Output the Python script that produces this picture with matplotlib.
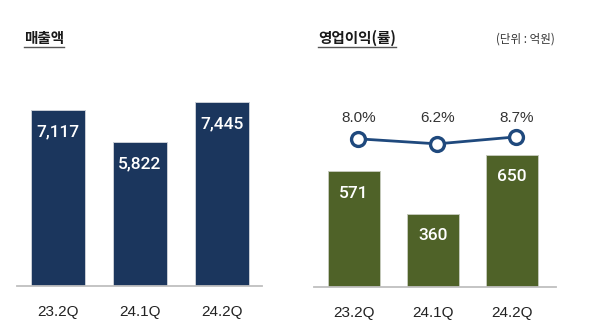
import matplotlib
matplotlib.use("Agg")
import matplotlib.pyplot as plt
import matplotlib.transforms as mtransforms

quarters = ["23.2Q", "24.1Q", "24.2Q"]
sales = [7117, 5822, 7445]
op_profit = [571, 360, 650]
op_margin = [8.0, 6.2, 8.7]

NAVY = "#1b365d"
OLIVE = "#4f6228"
LINE = "#1f497d"
AXIS_GREY = "#bfbfbf"
KR = ["Noto Sans CJK KR", "DejaVu Sans"]

W, H = 600, 323
fig = plt.figure(figsize=(W / 100, H / 100), dpi=100)


def px_axes(x0, x1, base, height=200):
    # axes placed by pixel edges (y measured from top of the figure)
    return fig.add_axes([x0 / W, (H - base) / H, (x1 - x0) / W, height / H])


def style(ax):
    for s in ("top", "right", "left"):
        ax.spines[s].set_visible(False)
    ax.spines["bottom"].set_color(AXIS_GREY)
    ax.spines["bottom"].set_linewidth(1.3)
    ax.set_yticks([])
    ax.tick_params(axis="x", length=0, pad=13.5, labelsize=11, labelcolor="#222222")
    for lb in ax.get_xticklabels():
        lb.set_family("Liberation Sans")


def bar_values(ax, vals, fmt):
    for i, v in enumerate(vals):
        ax.annotate(fmt.format(v), xy=(i, v), xytext=(0, -15.8), textcoords="offset points",
                    ha="center", va="center", color="white", fontsize=12.5,
                    family="Roboto", fontweight="medium")


# sales
ax1 = px_axes(17, 262, 286)
ax1.bar(range(3), sales, width=0.66, color=NAVY, edgecolor="#c9ced6", linewidth=0.7)
ax1.set_xlim(-0.5, 2.49)
ax1.set_ylim(0, 8092)
ax1.set_xticks(range(3), quarters)
style(ax1)
bar_values(ax1, sales, "{:,}")

# operating profit + margin
ax2 = px_axes(314, 556, 287)
ax2.bar(range(3), op_profit, width=0.67, color=OLIVE, edgecolor="#c4c9bb", linewidth=0.7)
ax2.set_xlim(-0.506, 2.557)
ax2.set_ylim(0, 985)
ax2.set_xticks(range(3), quarters)
style(ax2)
bar_values(ax2, op_profit, "{:,}")

LINE_SHIFT = 0.055
ax3 = ax2.twinx()
ax3.set_ylim(-44.9, 26.5)
ax3.axis("off")
xs = [i + LINE_SHIFT for i in range(3)]
ax3.plot(xs, op_margin, color=LINE, lw=2, marker="o", ms=10,
         markerfacecolor="white", markeredgecolor=LINE, markeredgewidth=2.4, zorder=5)
tr = mtransforms.blended_transform_factory(ax3.transData, ax3.transAxes)
for x, m in zip(xs, op_margin):
    ax3.text(x, 0.845, f"{m:.1f}%", transform=tr, ha="center", va="center",
             fontsize=11, color="#333333", family="Liberation Sans")

# titles with underline
renderer = fig.canvas.get_renderer()


def underlined(x, y, s):
    t = fig.text(x / W, 1 - y / H, s, ha="left", va="center", fontsize=10.5,
                 fontweight="bold", color="#1a1a1a", family=KR)
    bb = t.get_window_extent(renderer)
    uy = 1 - 46.5 / H
    fig.add_artist(plt.Line2D([bb.x0 / W, bb.x1 / W], [uy, uy], color="#555555",
                              lw=1.0, transform=fig.transFigure))


underlined(24, 38.5, "매출액")
underlined(318, 38, "영업이익(률)")
fig.text(555 / W, 1 - 39 / H, "(단위 : 억원)", ha="right", va="center", fontsize=8.3,
         color="#333333", family=KR)

fig.savefig("out.png", dpi=100)
